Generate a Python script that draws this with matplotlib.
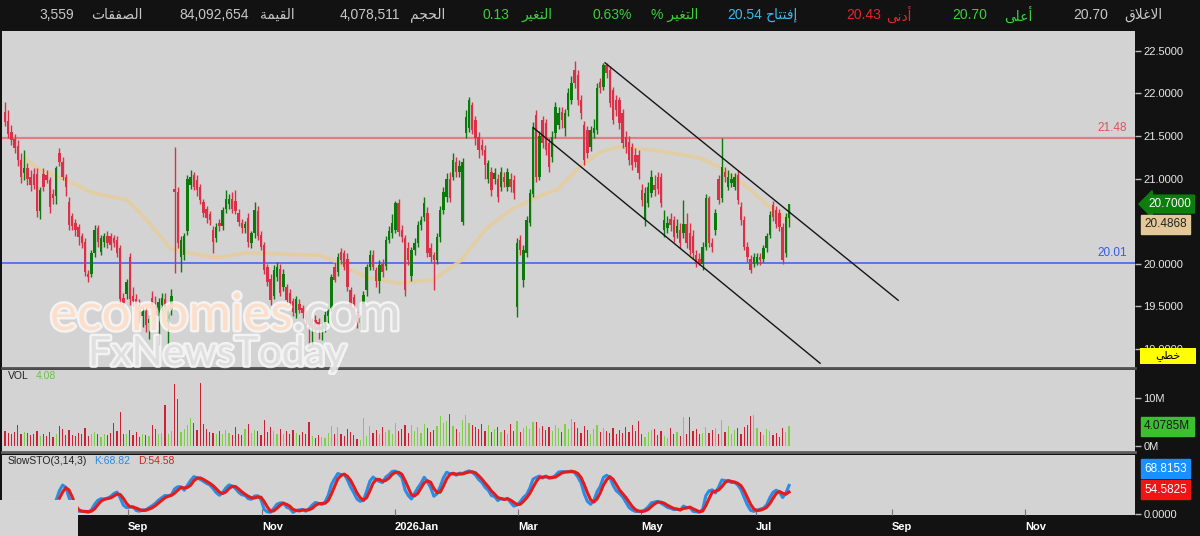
import matplotlib
matplotlib.use('Agg')
import matplotlib.pyplot as plt
import matplotlib.patheffects as pe
import matplotlib.transforms as mtransforms
from matplotlib.patches import Rectangle
from matplotlib.ticker import FormatStrFormatter
import numpy as np
import pandas as pd

plt.rcParams['font.family'] = ['Liberation Sans', 'DejaVu Sans']

# ---- daily candles ----
opens = [
    21.78, 21.68, 21.55, 21.46, 21.38, 21.22, 21.06, 21.12, 21.02, 21.05,
    21.05, 20.62, 21.05, 21.04, 20.98, 20.82, 20.80, 21.30, 21.20, 21.02,
    20.72, 20.56, 20.48, 20.43, 20.32, 20.26, 19.88, 19.88, 20.12, 20.42,
    20.14, 20.26, 20.32, 20.32, 20.30, 20.28, 20.18, 19.60, 19.64, 20.08,
    19.62, 19.58, 19.50, 19.38, 19.44, 19.30, 19.60, 19.50, 19.38, 19.52,
    19.58, 19.32, 19.45, 20.88, 20.84, 20.08, 20.10, 20.38, 20.92, 21.04,
    20.98, 20.90, 20.72, 20.64, 20.58, 20.40, 20.30, 20.48, 20.44, 20.64,
    20.70, 20.76, 20.74, 20.60, 20.48, 20.42, 20.54, 20.24, 20.36, 20.62,
    20.34, 20.22, 19.96, 19.82, 19.62, 19.84, 19.94, 19.72, 19.72, 19.66,
    19.56, 19.42, 19.53, 19.48, 19.42, 19.34, 19.28, 19.34, 19.32, 19.22,
    19.27, 19.38, 19.48, 19.96, 19.90, 20.14, 20.12, 20.06, 19.69, 19.61,
    19.40, 19.30, 19.53, 19.69, 19.96, 20.10, 19.92, 19.80, 20.00, 19.97,
    20.28, 20.36, 20.40, 20.71, 20.40, 20.30, 20.18, 19.85, 20.16, 20.24,
    20.45, 20.55, 20.60, 20.18, 20.10, 20.04, 20.31, 20.63, 20.78, 21.00,
    21.02, 21.19, 21.08, 20.49, 21.53, 21.60, 21.86, 21.69, 21.49, 21.39,
    21.34, 21.00, 21.08, 21.00, 21.00, 20.90, 21.02, 20.90, 21.00, 20.98,
    19.49, 20.28, 19.81, 20.12, 20.48, 20.82, 21.75, 21.02, 21.69, 21.65,
    21.42, 21.25, 21.53, 21.63, 21.78, 21.60, 21.80, 21.92, 22.27, 22.22,
    21.92, 21.63, 21.57, 21.37, 21.53, 21.57, 22.13, 22.08, 22.33, 22.28,
    22.04, 21.92, 21.92, 21.77, 21.49, 21.43, 21.37, 21.28, 21.28, 20.87,
    20.51, 20.71, 20.83, 20.92, 21.02, 21.02, 20.40, 20.42, 20.52, 20.51,
    20.36, 20.40, 20.36, 20.47, 20.36, 20.32, 20.10, 20.06, 20.00, 20.20,
    20.77, 20.24, 20.40, 21.00, 20.77, 21.08, 20.90, 20.95, 20.90, 21.04,
    20.67, 20.51, 20.20, 20.06, 20.00, 20.01, 20.08, 20.06, 20.18, 20.34,
    20.69, 20.63, 20.59, 20.43, 20.12, 20.54,
]
highs = [
    21.90, 21.80, 21.63, 21.52, 21.45, 21.30, 21.34, 21.18, 21.10, 21.12,
    21.12, 20.90, 21.12, 21.10, 21.02, 20.88, 21.15, 21.36, 21.25, 21.05,
    20.78, 20.60, 20.52, 20.47, 20.36, 20.30, 19.92, 20.16, 20.45, 20.46,
    20.34, 20.36, 20.38, 20.36, 20.34, 20.32, 20.22, 19.66, 19.82, 20.12,
    19.72, 19.64, 19.58, 19.50, 19.50, 19.40, 19.68, 19.62, 19.60, 19.65,
    19.66, 19.50, 19.70, 21.37, 20.90, 20.32, 20.36, 21.04, 21.10, 21.08,
    21.04, 20.94, 20.76, 20.68, 20.62, 20.44, 20.48, 20.52, 20.66, 20.86,
    20.82, 20.84, 20.86, 20.64, 20.52, 20.50, 20.60, 20.38, 20.72, 20.68,
    20.38, 20.26, 20.00, 19.88, 19.98, 20.02, 20.00, 19.94, 19.76, 19.70,
    19.60, 19.62, 19.58, 19.52, 19.46, 19.38, 19.36, 19.40, 19.36, 19.30,
    19.44, 19.52, 19.88, 20.02, 20.12, 20.18, 20.16, 20.12, 19.72, 19.64,
    19.44, 19.40, 19.68, 20.00, 20.16, 20.16, 19.96, 20.04, 20.05, 20.32,
    20.44, 20.58, 20.74, 20.76, 20.46, 20.34, 20.26, 20.20, 20.30, 20.50,
    20.56, 20.78, 20.66, 20.24, 20.14, 20.36, 20.68, 20.90, 21.06, 21.08,
    21.30, 21.25, 21.22, 21.24, 21.80, 21.96, 21.90, 21.74, 21.55, 21.46,
    21.40, 21.22, 21.14, 21.12, 21.05, 21.14, 21.08, 21.12, 21.06, 21.04,
    20.30, 20.34, 20.22, 20.56, 20.88, 21.66, 21.80, 21.56, 21.74, 21.70,
    21.48, 21.56, 21.90, 21.84, 21.84, 21.82, 22.06, 22.20, 22.38, 22.28,
    21.98, 21.68, 21.62, 21.62, 21.70, 22.12, 22.18, 22.36, 22.36, 22.32,
    22.08, 21.98, 21.96, 21.82, 21.56, 21.50, 21.42, 21.36, 21.34, 20.94,
    20.90, 20.96, 21.10, 21.04, 21.08, 21.06, 20.63, 20.56, 20.60, 20.56,
    20.52, 20.48, 20.75, 20.60, 20.48, 20.40, 20.16, 20.12, 20.26, 20.82,
    20.80, 20.30, 20.64, 21.04, 21.48, 21.14, 21.10, 21.06, 21.06, 21.10,
    20.72, 20.56, 20.26, 20.10, 20.12, 20.12, 20.12, 20.22, 20.36, 20.62,
    20.74, 20.68, 20.64, 20.48, 20.60, 20.70,
]
lows = [
    21.62, 21.48, 21.40, 21.30, 21.15, 20.95, 20.98, 20.92, 20.85, 20.88,
    20.55, 20.52, 20.85, 20.95, 20.60, 20.70, 20.70, 21.15, 20.98, 20.80,
    20.40, 20.40, 20.33, 20.22, 20.18, 19.85, 19.78, 19.84, 20.08, 20.20,
    20.10, 20.20, 20.18, 20.16, 20.20, 20.08, 19.52, 19.48, 19.58, 19.52,
    19.50, 19.44, 19.30, 19.25, 19.20, 19.12, 19.45, 19.32, 19.05, 19.40,
    19.38, 19.06, 19.40, 19.89, 20.18, 19.90, 20.04, 20.34, 20.88, 20.86,
    20.80, 20.70, 20.55, 20.48, 20.46, 20.12, 20.26, 20.38, 20.40, 20.60,
    20.64, 20.60, 20.58, 20.44, 20.36, 20.36, 20.20, 20.18, 20.30, 20.28,
    20.16, 19.88, 19.74, 19.52, 19.58, 19.80, 19.62, 19.68, 19.54, 19.50,
    19.38, 19.36, 19.42, 19.36, 19.28, 19.05, 19.05, 19.20, 19.12, 19.10,
    19.20, 19.30, 19.44, 19.78, 19.86, 20.00, 19.92, 19.68, 19.44, 19.42,
    19.24, 19.22, 19.48, 19.62, 19.92, 19.92, 19.72, 19.66, 19.84, 19.92,
    20.24, 20.30, 20.36, 20.32, 20.26, 19.62, 19.98, 19.80, 20.10, 20.20,
    20.40, 20.50, 20.08, 20.02, 19.69, 20.00, 20.26, 20.58, 20.72, 20.72,
    20.98, 21.02, 21.02, 20.45, 21.48, 21.55, 21.52, 21.40, 21.24, 21.28,
    21.00, 20.95, 20.80, 20.94, 20.72, 20.85, 20.90, 20.85, 20.84, 20.76,
    19.37, 20.10, 19.72, 20.08, 20.44, 20.78, 20.96, 20.98, 21.36, 21.28,
    21.08, 21.20, 21.48, 21.58, 21.60, 21.50, 21.74, 21.88, 22.06, 21.86,
    21.70, 21.16, 21.24, 21.32, 21.48, 21.52, 22.00, 22.04, 22.18, 21.84,
    21.64, 21.74, 21.58, 21.36, 21.30, 21.16, 21.10, 21.14, 21.00, 20.68,
    20.44, 20.66, 20.78, 20.80, 20.82, 20.66, 20.31, 20.36, 20.38, 20.26,
    20.30, 20.18, 20.30, 20.18, 20.10, 20.06, 19.96, 19.99, 19.92, 20.16,
    20.20, 20.14, 20.34, 20.70, 20.72, 20.96, 20.86, 20.90, 20.86, 20.70,
    20.46, 20.16, 20.02, 19.89, 19.96, 19.98, 19.99, 20.02, 20.14, 20.30,
    20.50, 20.42, 20.38, 20.00, 20.08, 20.43,
]
closes = [
    21.66, 21.52, 21.45, 21.36, 21.22, 21.02, 21.12, 21.00, 20.92, 20.92,
    20.62, 20.86, 20.90, 20.98, 20.66, 20.77, 21.12, 21.20, 21.02, 20.90,
    20.45, 20.44, 20.40, 20.31, 20.24, 19.90, 19.84, 20.12, 20.40, 20.26,
    20.30, 20.32, 20.24, 20.22, 20.24, 20.12, 19.58, 19.54, 19.78, 19.58,
    19.56, 19.50, 19.36, 19.44, 19.28, 19.35, 19.50, 19.40, 19.55, 19.60,
    19.45, 19.45, 19.62, 20.84, 20.24, 20.28, 20.32, 21.00, 21.02, 20.90,
    20.86, 20.75, 20.60, 20.54, 20.51, 20.26, 20.43, 20.44, 20.63, 20.76,
    20.76, 20.64, 20.62, 20.49, 20.42, 20.47, 20.26, 20.36, 20.63, 20.32,
    20.20, 19.92, 19.79, 19.57, 19.92, 19.96, 19.66, 19.88, 19.57, 19.54,
    19.43, 19.59, 19.46, 19.42, 19.34, 19.28, 19.34, 19.28, 19.22, 19.27,
    19.40, 19.49, 19.84, 19.81, 20.08, 20.04, 19.96, 19.73, 19.49, 19.53,
    19.30, 19.36, 19.63, 19.96, 20.10, 19.96, 19.80, 19.98, 19.90, 20.28,
    20.38, 20.48, 20.71, 20.37, 20.31, 19.69, 20.04, 20.16, 20.24, 20.45,
    20.51, 20.71, 20.12, 20.08, 20.04, 20.31, 20.63, 20.84, 21.00, 20.77,
    21.22, 21.08, 21.15, 21.19, 21.72, 21.92, 21.57, 21.48, 21.34, 21.34,
    21.16, 21.18, 20.87, 21.06, 20.78, 21.08, 20.96, 21.08, 20.90, 20.83,
    20.24, 20.16, 20.16, 20.51, 20.83, 21.60, 21.02, 21.50, 21.42, 21.34,
    21.14, 21.49, 21.84, 21.77, 21.69, 21.77, 22.00, 22.12, 22.12, 21.92,
    21.77, 21.22, 21.30, 21.57, 21.60, 22.07, 22.06, 22.33, 22.24, 21.89,
    21.69, 21.80, 21.65, 21.42, 21.37, 21.22, 21.16, 21.20, 21.06, 20.75,
    20.83, 20.90, 21.02, 20.86, 20.88, 20.71, 20.51, 20.48, 20.45, 20.31,
    20.44, 20.24, 20.47, 20.24, 20.16, 20.12, 20.00, 20.00, 20.20, 20.77,
    20.24, 20.20, 20.59, 20.75, 21.14, 21.02, 21.02, 21.00, 21.02, 20.75,
    20.51, 20.20, 20.08, 19.93, 20.08, 20.08, 20.04, 20.18, 20.32, 20.57,
    20.55, 20.47, 20.43, 20.04, 20.55, 20.70,
]
# volume in millions
volumes = [
    3.1, 2.8, 2.6, 2.9, 4.4, 2.4, 3.0, 2.7, 2.2, 2.5,
    3.2, 2.0, 2.4, 2.1, 3.0, 1.8, 2.6, 4.2, 3.5, 2.3,
    3.4, 2.2, 2.0, 2.8, 2.4, 3.8, 2.1, 2.6, 3.0, 2.4,
    1.9, 2.5, 2.2, 2.7, 4.8, 3.1, 7.0, 2.6, 2.4, 3.3,
    2.2, 2.9, 1.8, 2.6, 2.3, 2.0, 4.4, 3.6, 2.5, 2.8,
    8.5, 2.6, 3.2, 12.9, 9.8, 3.0, 3.6, 4.4, 5.8, 4.7,
    3.3, 13.1, 4.5, 3.6, 3.0, 2.8, 2.6, 3.1, 2.4, 3.4,
    2.7, 2.2, 4.0, 2.5, 2.3, 3.6, 4.6, 2.8, 3.3, 3.1,
    2.2, 5.4, 2.9, 4.0, 3.2, 2.6, 3.5, 2.4, 3.1, 2.6,
    3.4, 2.8, 2.2, 3.0, 2.5, 5.0, 2.1, 1.6, 2.3, 1.9,
    1.7, 2.8, 4.2, 2.6, 3.9, 2.4, 2.1, 3.6, 2.9, 2.2,
    1.4, 1.2, 5.8, 2.0, 4.1, 2.7, 3.3, 2.4, 3.9, 3.0,
    3.4, 2.6, 4.8, 3.2, 3.6, 4.3, 2.7, 4.4, 3.1, 4.0,
    2.8, 4.5, 3.7, 2.9, 3.3, 4.1, 6.3, 4.7, 5.2, 6.7,
    4.2, 3.5, 2.9, 5.5, 6.4, 4.8, 4.4, 3.9, 3.6, 4.6,
    3.2, 4.3, 2.9, 3.5, 4.0, 3.0, 3.4, 2.6, 4.5, 3.2,
    5.2, 3.0, 3.8, 4.1, 3.6, 4.9, 5.0, 3.8, 4.2, 3.3,
    4.0, 3.1, 4.4, 3.7, 2.9, 4.6, 3.5, 5.6, 4.9, 3.8,
    2.8, 4.2, 3.3, 2.6, 3.6, 4.4, 2.9, 3.7, 3.1, 2.7,
    3.8, 2.4, 3.3, 2.7, 3.9, 2.9, 4.4, 3.2, 5.3, 2.6,
    1.8, 3.0, 3.4, 3.6, 2.2, 3.2, 2.0, 1.7, 3.8, 2.4,
    2.9, 2.1, 6.1, 2.5, 6.0, 3.1, 3.6, 2.4, 2.8, 3.9,
    2.7, 3.4, 3.8, 2.6, 5.5, 3.0, 4.2, 2.4, 3.3, 3.7,
    2.6, 3.9, 4.4, 6.2, 6.4, 3.8, 2.9, 2.2, 3.6, 3.1,
    2.3, 2.8, 1.9, 3.7, 3.0, 4.08,
]

# moving average line, read at points along the curve (candle index, price)
ma_idx = [6.2, 10.9, 19.4, 26.6, 33.8, 38.1, 42.2, 47.5, 51.6, 56.9,
          66.3, 75.6, 88.1, 98.4, 102.5, 107.8, 113.1, 122.5, 133.8, 142.2,
          150.6, 158.8, 167.2, 172.5, 179.7, 185.9, 191.3, 196.3, 206.9, 217.2,
          222.5, 227.5, 233.8, 238.1, 242.2, 245.0]
ma_vals = [21.24, 21.10, 20.98, 20.84, 20.78, 20.75, 20.60, 20.37, 20.18, 20.13,
           20.07, 20.13, 20.11, 20.10, 20.04, 19.93, 19.84, 19.77, 19.81, 20.03,
           20.42, 20.65, 20.80, 20.87, 21.14, 21.31, 21.37, 21.36, 21.31, 21.24,
           21.15, 21.02, 20.84, 20.69, 20.58, 20.49]

# hand-drawn channel and levels
upper_x, upper_y = [187.5, 279.1], [22.36, 19.57]
lower_x, lower_y = [165.0, 254.7], [21.60, 18.83]
resistance, support = 21.48, 20.01

price_ticks = [19.0, 19.5, 20.0, 21.0, 21.5, 22.0, 22.5]
month_pos = [38.4, 80.3, 121.9, 160.3, 198.75, 234.7, 277.2, 318.75]
month_labels = ['Sep', 'Nov', '2026Jan', 'Mar', 'May', 'Jul', 'Sep', 'Nov']

# header items: (label, value, colour), right to left
header = [
    ('الاغلاق', '20.70', '#c8c8c8'),
    ('أعلى', '20.70', '#3ccf3c'),
    ('أدنى', '20.43', '#e8232d'),
    ('إفتتاح', '20.54', '#3fb8e8'),
    ('التغير %', '0.63%', '#3ccf3c'),
    ('التغير', '0.13', '#3ccf3c'),
    ('الحجم', '4,078,511', '#c8c8c8'),
    ('القيمة', '84,092,654', '#c8c8c8'),
    ('الصفقات', '3,559', '#c8c8c8'),
]
header_label_x = [1143, 1018, 899, 782, 675, 537, 428, 277, 117]
header_value_x = [1091, 970, 864, 745, 612, 496, 370, 214, 57]


# ---- tiny Arabic shaper (matplotlib has no text shaping) ----
AR_FORMS = {
    'ا': ('\uFE8D', '\uFE8E', None, None), 'أ': ('\uFE83', '\uFE84', None, None),
    'إ': ('\uFE87', '\uFE88', None, None), 'د': ('\uFEA9', '\uFEAA', None, None),
    'ر': ('\uFEAD', '\uFEAE', None, None), 'ة': ('\uFE93', '\uFE94', None, None),
    'ى': ('\uFEEF', '\uFEF0', None, None),
    'ل': ('\uFEDD', '\uFEDE', '\uFEDF', '\uFEE0'), 'غ': ('\uFECD', '\uFECE', '\uFECF', '\uFED0'),
    'ق': ('\uFED5', '\uFED6', '\uFED7', '\uFED8'), 'ع': ('\uFEC9', '\uFECA', '\uFECB', '\uFECC'),
    'ن': ('\uFEE5', '\uFEE6', '\uFEE7', '\uFEE8'), 'ف': ('\uFED1', '\uFED2', '\uFED3', '\uFED4'),
    'ت': ('\uFE95', '\uFE96', '\uFE97', '\uFE98'), 'ح': ('\uFEA1', '\uFEA2', '\uFEA3', '\uFEA4'),
    'ي': ('\uFEF1', '\uFEF2', '\uFEF3', '\uFEF4'), 'ج': ('\uFE9D', '\uFE9E', '\uFE9F', '\uFEA0'),
    'م': ('\uFEE1', '\uFEE2', '\uFEE3', '\uFEE4'), 'ص': ('\uFEB9', '\uFEBA', '\uFEBB', '\uFEBC'),
    'ك': ('\uFED9', '\uFEDA', '\uFEDB', '\uFEDC'), 'ط': ('\uFEC1', '\uFEC2', '\uFEC3', '\uFEC4'),
    'خ': ('\uFEA5', '\uFEA6', '\uFEA7', '\uFEA8'),
}
LAM_ALEF = {'ا': ('\uFEFB', '\uFEFC'), 'أ': ('\uFEF7', '\uFEF8'), 'إ': ('\uFEF9', '\uFEFA')}


def shape_ar(word):
    out, prev_joins, i = [], False, 0
    while i < len(word):
        ch = word[i]
        nxt = word[i + 1] if i + 1 < len(word) else None
        if ch not in AR_FORMS:
            out.append(ch)
            prev_joins = False
            i += 1
            continue
        if ch == 'ل' and nxt in LAM_ALEF:
            out.append(LAM_ALEF[nxt][1 if prev_joins else 0])
            prev_joins = False
            i += 2
            continue
        iso, fin, ini, med = AR_FORMS[ch]
        next_ok = ini is not None and nxt in AR_FORMS
        if prev_joins and next_ok:
            g = med
        elif prev_joins:
            g = fin
        elif next_ok:
            g = ini
        else:
            g = iso
        out.append(g)
        prev_joins = ini is not None
        i += 1
    return ''.join(reversed(out))


def ar_label(text):
    # right-to-left: a trailing '%' ends up on the left side
    if text.endswith(' %'):
        return '% ' + shape_ar(text[:-2])
    return shape_ar(text)


# ---- figure ----
W, H = 1200, 536
DARK = '#121212'
BG = '#d3d3d3'
RED = '#da3048'
GREEN = '#0b7a0b'

o = np.array(opens)
h = np.array(highs)
l = np.array(lows)
c = np.array(closes)
idx = np.arange(len(c))
up = c >= o

fig = plt.figure(figsize=(12, 5.36), dpi=100, facecolor=DARK)


def rect(top, bottom):
    return [2 / W, 1 - bottom / H, 1133 / W, (bottom - top) / H]


ax = fig.add_axes(rect(31, 368), facecolor=BG)
axv = fig.add_axes(rect(370, 452), facecolor=BG, sharex=ax)
axs = fig.add_axes(rect(455, 515), facecolor=BG, sharex=ax)

for a in (ax, axv, axs):
    for s in a.spines.values():
        s.set_visible(False)
    a.yaxis.tick_right()
    a.tick_params(axis='y', colors='#bbbbbb', labelcolor='#e8e8e8', labelsize=8,
                  length=4, width=1, pad=2)
ax.spines['bottom'].set_visible(True)
ax.spines['bottom'].set_color('#505050')
ax.spines['bottom'].set_linewidth(2)
axv.spines['bottom'].set_visible(True)
axv.spines['bottom'].set_color('#606060')
axv.spines['bottom'].set_linewidth(2)

ax.set_xlim(-0.94, 353.1)
ax.set_ylim(18.774, 22.734)

# price panel
cols = np.where(up, GREEN, RED)
ax.plot(ma_idx, ma_vals, color='#e6cd9a', lw=2.6, alpha=0.85, zorder=2,
        solid_capstyle='round')
ax.axhline(resistance, color='#e47c86', lw=1.6, zorder=1)
ax.axhline(support, color='#4f6ef2', lw=1.3, zorder=1)
ax.vlines(idx, l, h, colors=cols, lw=1, zorder=3)
ax.bar(idx, np.maximum(np.abs(c - o), 0.012), bottom=np.minimum(o, c),
       width=0.75, color=cols, lw=0, zorder=4)
ax.plot(upper_x, upper_y, color='#151515', lw=1, zorder=5)
ax.plot(lower_x, lower_y, color='#151515', lw=1, zorder=5)
ax.annotate(f'{resistance:.2f}', (346, resistance), xytext=(0, 3),
            textcoords='offset points', ha='center', va='bottom',
            color='#e0505e', fontsize=8.5)
ax.annotate(f'{support:.2f}', (346, support), xytext=(0, 3),
            textcoords='offset points', ha='center', va='bottom',
            color='#3a5ae8', fontsize=8.5)

ax.set_yticks(price_ticks)
ax.yaxis.set_major_formatter(FormatStrFormatter('%.4f'))
ax.tick_params(axis='x', bottom=False, labelbottom=False)

right = mtransforms.blended_transform_factory(ax.transAxes, ax.transData)
ax.text(1.012, c[-1], f'{c[-1]:.4f}', transform=right, ha='left', va='center',
        color='white', fontsize=8.5, zorder=10, clip_on=False,
        bbox=dict(boxstyle='larrow,pad=0.25', fc='#0d7d0d', ec='#0d7d0d'))
ax.text(1.008, 20.462, '20.4868', transform=right, ha='left', va='center',
        color='#222222', fontsize=8.5, zorder=10, clip_on=False,
        bbox=dict(boxstyle='square,pad=0.3', fc='#e3c99a', ec='#e3c99a'))

# volume panel
vcols = np.where(up, '#7fd045', '#cc2035')
axv.bar(idx, volumes, width=0.38, color=vcols, lw=0)
axv.set_ylim(-1.25, 15.83)
axv.set_yticks([0, 10])
axv.set_yticklabels(['0M', '10M'])
axv.tick_params(axis='x', bottom=False, labelbottom=False)
axv.text(0.005, 0.925, 'VOL', transform=axv.transAxes, color='#222222',
         fontsize=7.5, va='center')
axv.text(0.030, 0.925, '4.08', transform=axv.transAxes, color='#6cc24a',
         fontsize=7.5, va='center')
vright = mtransforms.blended_transform_factory(axv.transAxes, axv.transData)
axv.text(1.008, volumes[-1], '4.0785M', transform=vright, ha='left', va='center',
         color='#1a1a1a', fontsize=8.5, clip_on=False,
         bbox=dict(boxstyle='square,pad=0.3', fc='#3cc032', ec='#3cc032'))

# slow stochastic (3,14,3) from the candles
hh = pd.Series(h).rolling(14).max()
ll = pd.Series(l).rolling(14).min()
fast_k = 100 * (pd.Series(c) - ll) / (hh - ll)
slow_k = fast_k.rolling(3).mean()
slow_d = slow_k.rolling(3).mean()
axs.plot(idx, slow_k, color='#2b8ce6', lw=2.2)
axs.plot(idx, slow_d, color='#e31b1b', lw=2.2)
axs.set_ylim(-2, 131)
axs.set_yticks([0])
axs.set_yticklabels(['0.0000'])
axs.text(0.005, 0.9, 'SlowSTO(3,14,3)', transform=axs.transAxes, color='#222222',
         fontsize=7.5, va='center')
axs.text(0.081, 0.9, 'K:68.82', transform=axs.transAxes, color='#2a8ae0',
         fontsize=7.5, va='center')
axs.text(0.120, 0.9, 'D:54.58', transform=axs.transAxes, color='#e01b1b',
         fontsize=7.5, va='center')
axs.text(1.008, 0.77, '68.8153', transform=axs.transAxes, ha='left', va='center',
         color='white', fontsize=8.5, clip_on=False,
         bbox=dict(boxstyle='square,pad=0.3', fc='#1a8fff', ec='#1a8fff'))
axs.text(1.008, 0.42, '54.5825', transform=axs.transAxes, ha='left', va='center',
         color='white', fontsize=8.5, clip_on=False,
         bbox=dict(boxstyle='square,pad=0.3', fc='#ee1515', ec='#ee1515'))

axs.set_xticks(month_pos)
axs.set_xticklabels(month_labels)
axs.tick_params(axis='x', direction='in', length=4, color='#777777',
                labelcolor='white', labelsize=8, pad=5)
for lbl in axs.get_xticklabels():
    lbl.set_horizontalalignment('left')
    lbl.set_fontweight('bold')

# header bar
hy = 1 - 15 / H
for (lab, val, col), lx, vx in zip(header, header_label_x, header_value_x):
    fig.text(lx / W, hy, ar_label(lab), color=col, fontsize=10, ha='center', va='center')
    fig.text(vx / W, hy, val, color=col, fontsize=10, ha='center', va='center')

# yellow line-type tag under the price scale (covers most of the 19.0000 label)
fig.add_artist(Rectangle((1140 / W, 1 - 364 / H), 56 / W, 16 / H,
                         transform=fig.transFigure, fc='#ffff00', ec='none', zorder=6))
fig.text(1168 / W, 1 - 356 / H, shape_ar('خطي'), color='black', fontsize=8,
         ha='center', va='center', zorder=7)

# watermark
stroke = [pe.withStroke(linewidth=3.5, foreground='white')]
wm = fig.text(50 / W, 1 - 316 / H, 'economies', color='#fbd8bf', fontsize=37,
              family='Lato', ha='left', va='center', alpha=0.75,
              path_effects=stroke, zorder=8)
fig.canvas.draw()
wm_end = wm.get_window_extent().x1
fig.text(wm_end / W, 1 - 316 / H, '.com', color=BG, fontsize=37,
         family='Lato', ha='left', va='center', alpha=0.75, path_effects=stroke, zorder=8)
fig.text(88 / W, 1 - 354 / H, 'FxNewsToday', color='#d9d9d9', fontsize=29.5,
         family='Lato', ha='left', va='center', alpha=0.75, path_effects=stroke, zorder=8)
fig.add_artist(Rectangle((0, 0), 78 / W, 36 / H, transform=fig.transFigure,
                         fc='#d5d5d5', ec='none', zorder=6))

fig.savefig('out.png', dpi=100, facecolor=DARK)
